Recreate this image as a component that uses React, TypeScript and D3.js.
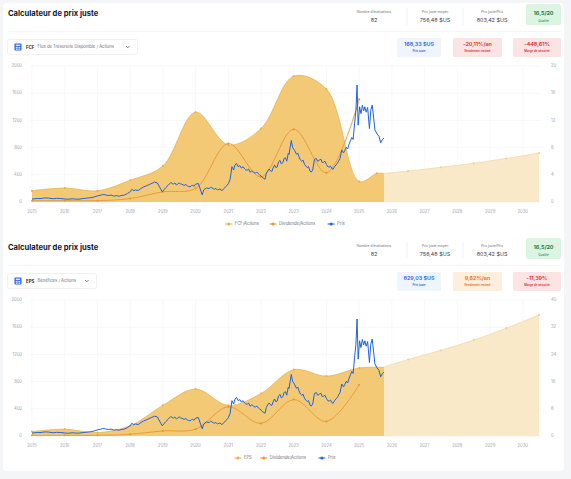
import * as d3 from 'd3'

const W = 571
const H = 479
const FONT = 'Inter, "Noto Sans", sans-serif'

const YEAR_LABELS = ['2015', '2016', '2017', '2018', '2019', '2020', '2021', '2022', '2023', '2024', '2025', '2026', '2027', '2028', '2029', '2030']
const LEFT_TICKS = [0, 400, 800, 1200, 1600, 2000]
const FCF_TICKS = [0, 4, 8, 12, 16, 20]
const EPS_TICKS = [0, 8, 16, 24, 32, 40]
const TODAY = '2025-10-05'

// cours de l'action (axe gauche)
const PRICE: [string, number][] = [
  ['2015-01-01', 44], ['2015-02-01', 47], ['2015-03-01', 52], ['2015-04-01', 50], ['2015-05-01', 56], ['2015-06-01', 60],
  ['2015-07-01', 58], ['2015-08-01', 52], ['2015-09-01', 48], ['2015-10-01', 54], ['2015-11-01', 52], ['2015-12-01', 49],
  ['2016-01-01', 45], ['2016-02-01', 40], ['2016-03-01', 44], ['2016-04-01', 47], ['2016-05-01', 43], ['2016-06-01', 41],
  ['2016-07-01', 46], ['2016-08-01', 52], ['2016-09-01', 56], ['2016-10-01', 60], ['2016-11-01', 66], ['2016-12-01', 76],
  ['2017-01-01', 90], ['2017-02-01', 98], ['2017-03-01', 110], ['2017-04-01', 104], ['2017-05-01', 96], ['2017-06-01', 101],
  ['2017-07-01', 88], ['2017-08-01', 93], ['2017-09-01', 86], ['2017-10-01', 97], ['2017-11-01', 104], ['2017-12-01', 125],
  ['2018-01-01', 150], ['2018-01-20', 188], ['2018-02-10', 165], ['2018-03-01', 178], ['2018-04-01', 168], ['2018-05-01', 198],
  ['2018-06-01', 222], ['2018-07-01', 238], ['2018-08-01', 256], ['2018-09-01', 275], ['2018-10-01', 292], ['2018-11-01', 280],
  ['2018-12-01', 205], ['2018-12-25', 150], ['2019-02-01', 210], ['2019-03-01', 245], ['2019-03-15', 265], ['2019-04-01', 288],
  ['2019-04-15', 270], ['2019-05-01', 265], ['2019-05-15', 280], ['2019-06-01', 250], ['2019-06-15', 262], ['2019-07-01', 282],
  ['2019-07-15', 268], ['2019-08-01', 262], ['2019-08-15', 250], ['2019-09-01', 248], ['2019-09-15', 255], ['2019-10-01', 238],
  ['2019-10-15', 228], ['2019-11-01', 222], ['2019-11-15', 240], ['2019-12-01', 245], ['2019-12-15', 230], ['2020-01-01', 262],
  ['2020-02-01', 272], ['2020-03-15', 105], ['2020-04-01', 178], ['2020-05-01', 205], ['2020-06-01', 198], ['2020-06-15', 215],
  ['2020-07-01', 210], ['2020-07-15', 195], ['2020-08-01', 188], ['2020-08-15', 200], ['2020-09-01', 176], ['2020-09-15', 185],
  ['2020-10-01', 192], ['2020-10-15', 170], ['2020-11-01', 178], ['2020-11-15', 200], ['2020-12-01', 225], ['2020-12-15', 240],
  ['2021-01-01', 270], ['2021-01-20', 330], ['2021-02-10', 520], ['2021-03-01', 470], ['2021-03-15', 540], ['2021-04-01', 568],
  ['2021-04-20', 520], ['2021-05-10', 535], ['2021-05-25', 500], ['2021-06-01', 505], ['2021-06-15', 520], ['2021-07-01', 488],
  ['2021-07-15', 470], ['2021-08-01', 470], ['2021-08-15', 485], ['2021-09-01', 438], ['2021-09-15', 455], ['2021-10-01', 452],
  ['2021-10-15', 430], ['2021-11-01', 428], ['2021-11-15', 440], ['2021-12-01', 415], ['2021-12-15', 400], ['2022-01-01', 385],
  ['2022-01-15', 360], ['2022-02-15', 335], ['2022-03-01', 420], ['2022-03-15', 455], ['2022-04-01', 485], ['2022-04-15', 460],
  ['2022-05-01', 448], ['2022-05-15', 500], ['2022-06-01', 545], ['2022-06-15', 505], ['2022-07-01', 515], ['2022-07-15', 590],
  ['2022-08-01', 612], ['2022-08-15', 560], ['2022-09-01', 578], ['2022-09-15', 640], ['2022-10-01', 650], ['2022-10-15', 600],
  ['2022-11-01', 718], ['2022-11-10', 700], ['2022-11-20', 790], ['2022-12-05', 905], ['2022-12-20', 800], ['2023-01-10', 760],
  ['2023-02-01', 700], ['2023-02-15', 720], ['2023-03-01', 665], ['2023-03-15', 620], ['2023-04-01', 598], ['2023-04-15', 615],
  ['2023-05-01', 555], ['2023-05-15', 530], ['2023-06-01', 505], ['2023-06-15', 520], ['2023-07-01', 455], ['2023-07-15', 440],
  ['2023-08-01', 470], ['2023-08-20', 625], ['2023-09-10', 640], ['2023-09-25', 600], ['2023-10-01', 598], ['2023-10-15', 620],
  ['2023-11-01', 628], ['2023-11-15', 580], ['2023-12-01', 585], ['2023-12-15', 600], ['2024-01-01', 552], ['2024-01-15', 520],
  ['2024-02-01', 512], ['2024-02-15', 530], ['2024-03-01', 492], ['2024-03-15', 480], ['2024-04-01', 520], ['2024-04-15', 545],
  ['2024-05-01', 565], ['2024-05-15', 600], ['2024-06-01', 640], ['2024-06-20', 765], ['2024-07-10', 722], ['2024-07-25', 760],
  ['2024-08-10', 805], ['2024-08-25', 780], ['2024-09-10', 852], ['2024-09-25', 900], ['2024-10-10', 950], ['2024-10-25', 920],
  ['2024-11-10', 1150], ['2024-11-25', 1350], ['2024-12-08', 1720], ['2024-12-20', 1130], ['2025-01-05', 1400], ['2025-01-20', 1300],
  ['2025-02-05', 1420], ['2025-02-20', 1340], ['2025-03-05', 1400], ['2025-03-20', 1320], ['2025-04-05', 1390], ['2025-04-25', 1080],
  ['2025-05-10', 1350], ['2025-05-26', 1425], ['2025-06-10', 1250], ['2025-06-25', 1060], ['2025-07-20', 1000], ['2025-08-10', 965],
  ['2025-08-28', 870], ['2025-09-15', 915], ['2025-10-05', 940],
]

const DIVIDENDS: [string, number][] = [
  ['2015-01-01', 0.2], ['2016-01-01', 0.2], ['2017-01-01', 0.2], ['2018-01-01', 0.5], ['2019-01-01', 1.5], ['2020-01-01', 2.0],
  ['2021-01-01', 8.6], ['2022-01-01', 3.7], ['2023-01-01', 10.7], ['2024-01-01', 4.3], ['2025-01-01', 15.1],
]

const FCF_HIST: [string, number][] = [
  ['2015-01-01', 1.65], ['2016-01-01', 2.05], ['2017-01-01', 1.65], ['2018-01-01', 3.2], ['2019-01-01', 5.3], ['2020-01-01', 13.2],
  ['2021-01-01', 8.4], ['2022-01-01', 10.8], ['2023-01-01', 18.5], ['2024-01-01', 16.6], ['2025-01-01', 3.0], ['2025-07-15', 4.2],
  [TODAY, 4.2],
]
const FCF_FORECAST: [string, number][] = [
  [TODAY, 4.2], ['2026-07-01', 4.55], ['2027-07-01', 5.1], ['2028-07-01', 5.7], ['2029-07-01', 6.4], ['2030-07-01', 7.2],
]

const EPS_HIST: [string, number][] = [
  ['2015-01-01', 1.3], ['2016-01-01', 2.0], ['2017-01-01', 1.0], ['2018-01-01', 3.0], ['2019-01-01', 9.0], ['2020-01-01', 13.8],
  ['2021-01-01', 9.0], ['2022-01-01', 12.5], ['2023-01-01', 19.5], ['2024-01-01', 17.6], ['2025-01-01', 20.0], [TODAY, 20.2],
]
const EPS_FORECAST: [string, number][] = [
  [TODAY, 20.3], ['2026-07-01', 22.5], ['2027-07-01', 25.2], ['2028-07-01', 28.2], ['2029-07-01', 31.7], ['2030-07-01', 35.6],
]

const STATS = [
  ['Nombre d\u2019évaluations', '82'],
  ['Prix juste moyen', '756,48 $US'],
  ['Prix juste/Prix', '803,42 $US'],
]

const TONES: Record<string, { bg: string; fg: string }> = {
  blue: { bg: '#eef5ff', fg: '#2563eb' },
  red: { bg: '#fde4e4', fg: '#dc2626' },
  orange: { bg: '#fdeedd', fg: '#ea6a0c' },
}

const GOLD = '#f3c976'
const GOLD_LINE = '#e8b24e'
const GOLD_LIGHT = '#f9e9c8'
const GOLD_LIGHT_LINE = '#f2d9a6'
const ORANGE = '#e8962f'
const BLUE = '#1e63e0'

const parse = d3.utcParse('%Y-%m-%d')

type Pt = [string, number]
type Badge = { value: string; label: string; tone: string; x: number; w: number }

function Panel({ dy, code, codeLabel, boxW, badges, hist, forecast, rightTicks, legend }: {
  dy: number; code: string; codeLabel: string; boxW: number; badges: Badge[]
  hist: Pt[]; forecast: Pt[]; rightTicks: number[]; legend: string[]
}) {
  const top = 66 + dy
  const bottom = 202 + dy
  const x = d3.scaleUtc().domain([parse('2015-01-01')!, parse('2030-07-01')!]).range([32, 539])
  const yL = d3.scaleLinear().domain([0, 2000]).range([bottom, top])
  const yR = d3.scaleLinear().domain([0, rightTicks[rightTicks.length - 1]]).range([bottom, top])

  const px = (d: Pt) => x(parse(d[0])!)
  const area = d3.area<Pt>().x(px).y0(bottom).y1(d => yR(d[1])).curve(d3.curveCatmullRom)
  const topLine = d3.line<Pt>().x(px).y(d => yR(d[1])).curve(d3.curveCatmullRom)
  const priceLine = d3.line<Pt>().x(px).y(d => yL(d[1]))

  const legendColors = [GOLD_LINE, ORANGE, BLUE]
  const widths = legend.map(l => 10 + l.length * 2.3)
  const total = d3.sum(widths) + 9 * (legend.length - 1)
  let lx = 286 - total / 2
  const legendItems = legend.map((l, i) => {
    const item = { label: l, x: lx, color: legendColors[i] }
    lx += widths[i] + 9
    return item
  })
  const boxRight = 7.5 + boxW

  return (
    <g fontFamily={FONT}>
      {/* en-tête */}
      <text x={8} y={16 + dy} fontSize={7.6} fontWeight={700} fill="#111827">Calculateur de prix juste</text>
      {STATS.map((s, i) => {
        const cx = [374, 435, 492][i]
        return (
          <g key={s[0]}>
            <text x={cx} y={12.5 + dy} fontSize={3.4} fill="#6b7280" textAnchor="middle" dominantBaseline="middle">{s[0]}</text>
            <text x={cx} y={20.5 + dy} fontSize={5.4} fill="#374151" textAnchor="middle" dominantBaseline="middle">{s[1]}</text>
          </g>
        )
      })}
      <line x1={407} x2={407} y1={8 + dy} y2={25 + dy} stroke="#e5e7eb" strokeWidth={0.6} />
      <line x1={463} x2={463} y1={8 + dy} y2={25 + dy} stroke="#e5e7eb" strokeWidth={0.6} />
      <rect x={526} y={4 + dy} width={35} height={21} rx={2} fill="#dcf5e3" />
      <text x={543.5} y={14 + dy} fontSize={5.4} fontWeight={700} fill="#16803c" textAnchor="middle" dominantBaseline="middle">16,5/20</text>
      <text x={543.5} y={21.3 + dy} fontSize={3.2} fill="#16803c" textAnchor="middle" dominantBaseline="middle">Qualité</text>
      <line x1={8} x2={561} y1={31.5 + dy} y2={31.5 + dy} stroke="#eceef1" strokeWidth={0.6} />

      {/* sélecteur */}
      <rect x={7.5} y={39.5 + dy} width={boxW} height={15} rx={2} fill="#fff" stroke="#e5e7eb" strokeWidth={0.6} />
      <rect x={14.5} y={43.5 + dy} width={7} height={7} rx={1} fill="#2563eb" />
      <rect x={15.8} y={44.6 + dy} width={4.4} height={1.4} fill="#fff" opacity={0.9} />
      <rect x={15.8} y={46.8 + dy} width={1.8} height={1.3} fill="#fff" opacity={0.9} />
      <rect x={18.4} y={46.8 + dy} width={1.8} height={1.3} fill="#fff" opacity={0.9} />
      <rect x={15.8} y={48.5 + dy} width={1.8} height={1.3} fill="#fff" opacity={0.9} />
      <rect x={18.4} y={48.5 + dy} width={1.8} height={1.3} fill="#fff" opacity={0.9} />
      <text x={26} y={47.3 + dy} fontSize={4.4} fontWeight={700} fill="#1f2937" dominantBaseline="middle">{code}</text>
      <text x={37.5} y={47.3 + dy} fontSize={4.2} fill="#6b7280" dominantBaseline="middle">{codeLabel}</text>
      <path d={`M${boxRight - 11.5},${46 + dy} l1.8,1.8 l1.8,-1.8`} fill="none" stroke="#4b5563" strokeWidth={0.7} />

      {badges.map(b => (
        <g key={b.label}>
          <rect x={b.x} y={38 + dy} width={b.w} height={19} rx={1.5} fill={TONES[b.tone].bg} />
          <text x={b.x + b.w / 2} y={44.3 + dy} fontSize={5.4} fontWeight={600} fill={TONES[b.tone].fg} textAnchor="middle" dominantBaseline="middle">{b.value}</text>
          <text x={b.x + b.w / 2} y={51.5 + dy} fontSize={2.9} fontWeight={600} fill={TONES[b.tone].fg} textAnchor="middle" dominantBaseline="middle">{b.label}</text>
        </g>
      ))}

      {/* grille */}
      {LEFT_TICKS.map(t => (
        <line key={'h' + t} x1={30} x2={541} y1={yL(t)} y2={yL(t)} stroke="#f1f2f4" strokeWidth={0.6} />
      ))}
      {YEAR_LABELS.map(y => (
        <line key={'v' + y} x1={x(parse(`${y}-01-01`)!)} x2={x(parse(`${y}-01-01`)!)} y1={top} y2={bottom} stroke="#f3f4f6" strokeWidth={0.6} />
      ))}

      {/* séries */}
      <path d={area(forecast)!} fill={GOLD_LIGHT} />
      <path d={topLine(forecast)!} fill="none" stroke={GOLD_LIGHT_LINE} strokeWidth={0.8} />
      <path d={area(hist)!} fill={GOLD} />
      <path d={topLine(hist)!} fill="none" stroke={GOLD_LINE} strokeWidth={0.8} />
      {hist.filter(d => d[0] !== TODAY).map(d => (
        <circle key={'h' + d[0]} cx={px(d)} cy={yR(d[1])} r={1.1} fill={GOLD_LINE} />
      ))}
      {forecast.filter(d => d[0] !== TODAY).map(d => (
        <circle key={'f' + d[0]} cx={px(d)} cy={yR(d[1])} r={1.1} fill="#efd29a" />
      ))}
      <path d={topLine(DIVIDENDS)!} fill="none" stroke={ORANGE} strokeWidth={0.9} />
      {DIVIDENDS.map(d => (
        <circle key={'d' + d[0]} cx={px(d)} cy={yR(d[1])} r={1} fill={ORANGE} />
      ))}
      <path d={priceLine(PRICE)!} fill="none" stroke={BLUE} strokeWidth={1} strokeLinejoin="round" />

      {/* axes */}
      {LEFT_TICKS.map(t => (
        <text key={'l' + t} x={22} y={yL(t)} fontSize={4.2} fill="#9ca3af" textAnchor="end" dominantBaseline="middle">{t}</text>
      ))}
      {rightTicks.map(t => (
        <text key={'r' + t} x={551} y={yR(t)} fontSize={4.2} fill="#9ca3af" dominantBaseline="middle">{t}</text>
      ))}
      {YEAR_LABELS.map(y => (
        <text key={'x' + y} x={x(parse(`${y}-01-01`)!)} y={bottom + 9.5} fontSize={4.2} fill="#9ca3af" textAnchor="middle" dominantBaseline="middle">{y}</text>
      ))}

      {/* légende */}
      {legendItems.map(it => (
        <g key={it.label}>
          <line x1={it.x} x2={it.x + 7} y1={bottom + 22} y2={bottom + 22} stroke={it.color} strokeWidth={1} />
          <circle cx={it.x + 3.5} cy={bottom + 22} r={1.5} fill={it.color} />
          <text x={it.x + 9.5} y={bottom + 22.2} fontSize={4.2} fill="#6b7280" dominantBaseline="middle">{it.label}</text>
        </g>
      ))}
    </g>
  )
}

export default function App() {
  return (
    <>
      <style>{'body{margin:0;background:#f4f5f7}'}</style>
      <svg width={W} height={H} style={{ display: 'block' }}>
        <rect x={0} y={0} width={W} height={H} fill="#f4f5f7" />
        <rect x={3} y={3} width={561} height={468} rx={4} fill="#fff" />
        <Panel
          dy={0}
          code="FCF"
          codeLabel="Flux de Trésorerie Disponible / Actions"
          boxW={130}
          badges={[
            { value: '168,33 $US', label: 'Prix juste', tone: 'blue', x: 397, w: 44 },
            { value: '-20,11%/an', label: 'Rendement estimé', tone: 'red', x: 453, w: 49 },
            { value: '-448,61%', label: 'Marge de sécurité', tone: 'red', x: 513, w: 48 },
          ]}
          hist={FCF_HIST}
          forecast={FCF_FORECAST}
          rightTicks={FCF_TICKS}
          legend={['FCF/Actions', 'Dividende/Actions', 'Prix']}
        />
        <Panel
          dy={234}
          code="EPS"
          codeLabel="Bénéfices / Actions"
          boxW={89}
          badges={[
            { value: '829,03 $US', label: 'Prix juste', tone: 'blue', x: 397, w: 44 },
            { value: '9,62%/an', label: 'Rendement estimé', tone: 'orange', x: 453, w: 49 },
            { value: '-11,39%', label: 'Marge de sécurité', tone: 'red', x: 513, w: 48 },
          ]}
          hist={EPS_HIST}
          forecast={EPS_FORECAST}
          rightTicks={EPS_TICKS}
          legend={['EPS', 'Dividende/Actions', 'Prix']}
        />
      </svg>
    </>
  )
}
